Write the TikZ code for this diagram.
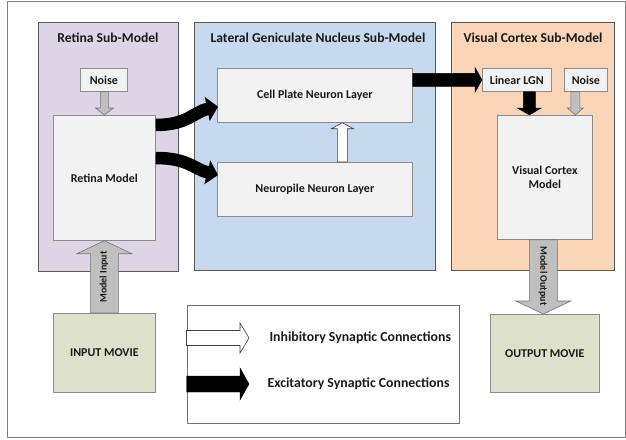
\documentclass[tikz,border=0pt]{standalone}
\usepackage{fontspec}
\setmainfont{Carlito}[BoldFont={Carlito Bold}]
\usetikzlibrary{calc,arrows.meta}

\definecolor{retinafill}{HTML}{DCD5E6}
\definecolor{lgnfill}{HTML}{C6D9EE}
\definecolor{vcfill}{HTML}{FAD5B8}
\definecolor{boxfill}{HTML}{F2F2F2}
\definecolor{moviefill}{HTML}{DDE1CB}
\definecolor{panelline}{HTML}{595959}
\definecolor{boxline}{HTML}{8C8C8C}
\definecolor{greyarrow}{HTML}{BFBFBF}
\definecolor{inktext}{HTML}{1A1A1A}

% block arrow from #2 to #3: shaft half width #4, head half width #5, head length #6
\newcommand\blockarrow[6][]{%
  \coordinate (ba-s) at (#2);
  \coordinate (ba-t) at (#3);
  \coordinate (ba-h) at ($(ba-t)!#6!(ba-s)$);
  \draw[#1] ($(ba-s)!#4!90:(ba-t)$) -- ($(ba-h)!#4!90:(ba-t)$)
    -- ($(ba-h)!#5!90:(ba-t)$) -- (ba-t) -- ($(ba-h)!#5!-90:(ba-t)$)
    -- ($(ba-h)!#4!-90:(ba-t)$) -- ($(ba-s)!#4!-90:(ba-t)$) -- cycle;
}

\tikzset{
  panel/.style={draw=panelline, line width=0.8pt, anchor=north west, inner sep=0pt},
  title/.style={font=\bfseries\fontsize{13.6}{15}\selectfont, text=inktext},
  layerbox/.style={draw=boxline, fill=boxfill, line width=0.7pt, anchor=north west,
    inner sep=0pt, font=\bfseries\fontsize{12}{14.5}\selectfont, text=inktext, align=center},
  moviebox/.style={layerbox, fill=moviefill},
  legendtext/.style={anchor=west, font=\bfseries\fontsize{13.8}{15}\selectfont, text=inktext},
  arrowlabel/.style={font=\bfseries\fontsize{10}{12}\selectfont, text=inktext},
  excite/.style={fill=black, draw=black, line width=0.4pt},
  inhib/.style={fill=white, draw=black!75, line width=0.6pt},
  greyblock/.style={fill=greyarrow, draw=black!55, line width=0.6pt},
  curvedexcite/.style={draw=black, line width=12.5pt,
    -{Triangle[length=11pt,width=24pt]}},
}

\begin{document}
\begin{tikzpicture}[x=1pt,y=-1pt]
  \useasboundingbox (0,0) rectangle (626,439);
  \draw[black!50, line width=0.8pt] (7.5,1.5) rectangle (625,437.5);

  % sub-model panels
  \node[panel, fill=retinafill, minimum width=140, minimum height=249] (retpanel) at (38,22) {};
  \node[panel, fill=lgnfill, minimum width=241, minimum height=248] (lgnpanel) at (194,22) {};
  \node[panel, fill=vcfill, minimum width=163, minimum height=248] (vcpanel) at (451,22) {};
  \node[title] (rettitle) at (108,38) {Retina Sub-Model};
  \node[title] (lgntitle) at (318,38) {Lateral Geniculate Nucleus Sub-Model};
  \node[title] (vctitle) at (533,38) {Visual Cortex Sub-Model};

  % retina
  \node[layerbox, minimum width=47, minimum height=23] (retnoise) at (80,68) {Noise};
  \node[layerbox, minimum width=102, minimum height=125] (retina) at (53,115) {Retina Model};
  \node[moviebox, minimum width=102, minimum height=79] (inmovie) at (53,313) {INPUT MOVIE};

  % LGN
  \node[layerbox, minimum width=195, minimum height=54] (cellplate) at (217,68) {Cell Plate Neuron Layer};
  \node[layerbox, minimum width=195, minimum height=54] (neuropile) at (217,162) {Neuropile Neuron Layer};

  % visual cortex
  \node[layerbox, minimum width=69, minimum height=23] (linlgn) at (482,68) {Linear LGN};
  \node[layerbox, minimum width=43, minimum height=23] (vcnoise) at (564,68) {Noise};
  \node[layerbox, minimum width=95, minimum height=124] (vcmodel) at (497,115) {Visual Cortex\\Model};
  \node[moviebox, minimum width=109, minimum height=78] (outmovie) at (490,314) {OUTPUT MOVIE};

  % legend
  \node[draw=black!55, line width=0.7pt, anchor=north west, minimum width=272, minimum height=118,
    inner sep=0pt] (legend) at (186.5,305) {};
  \node[legendtext] (inhtext) at (266,338) {Inhibitory Synaptic Connections};
  \node[legendtext] (exctext) at (264,384) {Excitatory Synaptic Connections};

  % arrow start points that sit off the box centres
  \coordinate (rnoise-s) at ($(retnoise.south)+(0.5,0)$);
  \coordinate (vnoise-s) at ($(vcnoise.south)+(-10.5,0)$);
  \coordinate (lin-s) at ($(linlgn.south)+(12.5,0)$);
  \coordinate (vcm-s) at ($(vcmodel.south)+(-1.5,0)$);
  \coordinate (neu-s) at ($(neuropile.north)+(27.5,0)$);

  % noise inputs
  \blockarrow[greyblock]{rnoise-s}{rnoise-s |- retina.north}{4pt}{9pt}{7pt}
  \blockarrow[greyblock]{vnoise-s}{vnoise-s |- vcmodel.north}{4.5pt}{8pt}{7pt}

  % model input / output
  \blockarrow[greyblock]{inmovie.north}{retina.south}{14pt}{27.5pt}{13pt}
  \node[arrowlabel, rotate=90] (inlabel) at (104,277) {Model Input};
  \blockarrow[greyblock]{vcm-s}{vcm-s |- outmovie.north}{14pt}{27.5pt}{13pt}
  \node[arrowlabel, rotate=-90] (outlabel) at (543,276) {Model Output};

  % retina to LGN (excitatory)
  \coordinate (rs1) at ($(retina.north east)+(0,10)$);
  \coordinate (rt1) at ($(cellplate.south west)+(1,-16)$);
  \draw[curvedexcite] (rs1) .. controls ($(rs1)+(32,0)$) and ($(rt1)+(-24,5)$) .. (rt1);
  \coordinate (rs2) at ($(retina.north east)+(0,43)$);
  \coordinate (rt2) at ($(neuropile.north west)+(1,13)$);
  \draw[curvedexcite] (rs2) .. controls ($(rs2)+(32,0)$) and ($(rt2)+(-24,-6)$) .. (rt2);

  % within LGN (inhibitory)
  \blockarrow[inhib]{neu-s}{neu-s |- cellplate.south}{5pt}{11pt}{6pt}

  % LGN to visual cortex (excitatory)
  \blockarrow[excite]{cellplate.east |- linlgn.west}{linlgn.west}{6.5pt}{12.5pt}{7pt}
  \blockarrow[excite]{lin-s}{lin-s |- vcmodel.north}{6pt}{12pt}{7pt}

  % legend arrows
  \coordinate (leg1) at (legend.west |- inhtext.west);
  \coordinate (leg2) at (legend.west |- exctext.west);
  \blockarrow[inhib]{leg1}{$(leg1)+(62.5,0)$}{7.5pt}{15pt}{9pt}
  \blockarrow[excite]{leg2}{$(leg2)+(62.5,0)$}{8pt}{16pt}{9pt}
\end{tikzpicture}
\end{document}
